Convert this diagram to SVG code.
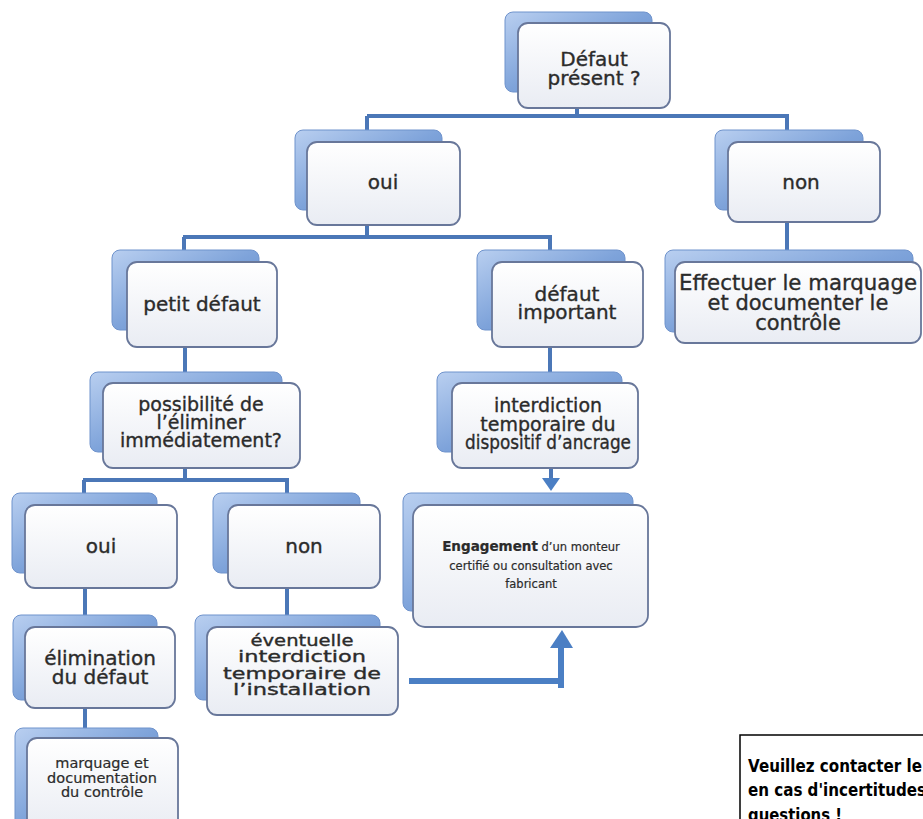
<svg xmlns="http://www.w3.org/2000/svg" width="923" height="819" viewBox="0 0 923 819">
<defs>
<linearGradient id="gb" x1="0" y1="0" x2="1" y2="1">
<stop offset="0" stop-color="#b9cff0"/>
<stop offset="0.5" stop-color="#7ea3da"/>
<stop offset="1" stop-color="#5a86c6"/>
</linearGradient>
<linearGradient id="gf" x1="0" y1="0" x2="0" y2="1">
<stop offset="0" stop-color="#ffffff"/>
<stop offset="1" stop-color="#e9ecf3"/>
</linearGradient>
</defs>
<style>
.back{fill:url(#gb);stroke:#6f93cc;stroke-width:1}
.front{fill:url(#gf);stroke:#68779a;stroke-width:1.8}
.t{font-family:"DejaVu Sans",Verdana,sans-serif;font-size:20px;fill:#2b2b2b;stroke:#2b2b2b;stroke-width:0.35;text-anchor:middle}
.c{stroke:#4b77b7;stroke-width:4;fill:none}
.ct{stroke:#4b7fc4;stroke-width:6;fill:none}
.ah{fill:#4b7fc4}
.note{font-family:"DejaVu Sans",Verdana,sans-serif;font-size:17px;font-weight:bold;fill:#000}
</style>
<rect width="923" height="819" fill="#ffffff"/>
<g id="connectors">
<path class="c" d="M577,100 V116 M367,116 H789 M367,116 V135 M787,116 V135"/>
<path class="c" d="M367,215 V237 M183,237 H552 M184,237 V255 M550,237 V255"/>
<path class="c" d="M787,212 V255"/>
<path class="c" d="M185,340 V378"/>
<path class="c" d="M185,460 V480 M83,480 H289 M84,480 V498 M287,480 V498"/>
<path class="c" d="M550,340 V378"/>
<path class="c" d="M85,580 V620 M287,580 V620"/>
<path class="c" d="M85,700 V733"/>
<path class="c" d="M551,462 V480"/>
<polygon class="ah" points="542,478 560,478 551,491"/>
<path class="ct" d="M409,681 H558 M561,688 V645"/>
<polygon class="ah" points="550,648 573,648 562,630"/>
</g>
<g id="n1">
<rect class="back" x="505" y="12" width="147" height="80" rx="8"/>
<rect class="front" x="518" y="23" width="152" height="85" rx="10"/>
<text class="t" x="594" y="66">Défaut</text>
<text class="t" x="594" y="85">présent ?</text>
</g>
<g id="n2">
<rect class="back" x="295" y="130" width="147" height="80" rx="8"/>
<rect class="front" x="307" y="142" width="153" height="83" rx="10"/>
<text class="t" x="383" y="189">oui</text>
</g>
<g id="n3">
<rect class="back" x="715" y="130" width="148" height="80" rx="8"/>
<rect class="front" x="728" y="142" width="152" height="80" rx="10"/>
<text class="t" x="801" y="189">non</text>
</g>
<g id="n4">
<rect class="back" x="665" y="250" width="248" height="82" rx="8"/>
<rect class="front" x="675" y="262" width="246" height="81" rx="10"/>
<text class="t" x="798" y="290" style="font-size:21px" textLength="238" lengthAdjust="spacingAndGlyphs">Effectuer le marquage</text>
<text class="t" x="798" y="310" style="font-size:21px">et documenter le</text>
<text class="t" x="798" y="330" style="font-size:21px">contrôle</text>
</g>
<g id="n5">
<rect class="back" x="112" y="250" width="147" height="80" rx="8"/>
<rect class="front" x="127" y="262" width="150" height="85" rx="10"/>
<text class="t" x="202" y="311">petit défaut</text>
</g>
<g id="n6">
<rect class="back" x="477" y="250" width="148" height="80" rx="8"/>
<rect class="front" x="492" y="262" width="151" height="85" rx="10"/>
<text class="t" x="567" y="301">défaut</text>
<text class="t" x="567" y="319">important</text>
</g>
<g id="n7">
<rect class="back" x="90" y="372" width="192" height="80" rx="8"/>
<rect class="front" x="103" y="383" width="197" height="85" rx="10"/>
<text class="t" x="201" y="411" style="font-size:19px">possibilité de</text>
<text class="t" x="201" y="429" style="font-size:19px">l’éliminer</text>
<text class="t" x="201" y="447" style="font-size:19px">immédiatement?</text>
</g>
<g id="n8">
<rect class="back" x="437" y="372" width="185" height="80" rx="8"/>
<rect class="front" x="452" y="383" width="186" height="85" rx="10"/>
<text class="t" x="548" y="412" style="font-size:19px">interdiction</text>
<text class="t" x="548" y="431" style="font-size:19px">temporaire du</text>
<text class="t" x="548" y="449" style="font-size:19px" textLength="166" lengthAdjust="spacingAndGlyphs">dispositif d’ancrage</text>
</g>
<g id="n9">
<rect class="back" x="403" y="493" width="230" height="118" rx="8"/>
<rect class="front" x="413" y="505" width="235" height="122" rx="12"/>
<text class="t" x="531" y="551" style="stroke-width:0.2"><tspan style="font-weight:bold;font-size:13.5px">Engagement</tspan><tspan style="font-size:11.5px"> d’un monteur</tspan></text>
<text class="t" x="531" y="570" style="font-size:11.5px;stroke-width:0.2">certifié ou consultation avec</text>
<text class="t" x="531" y="588" style="font-size:11.5px;stroke-width:0.2">fabricant</text>
</g>
<g id="n10">
<rect class="back" x="12" y="493" width="145" height="80" rx="8"/>
<rect class="front" x="25" y="505" width="152" height="83" rx="10"/>
<text class="t" x="101" y="553">oui</text>
</g>
<g id="n11">
<rect class="back" x="213" y="493" width="147" height="80" rx="8"/>
<rect class="front" x="228" y="505" width="152" height="83" rx="10"/>
<text class="t" x="304" y="553">non</text>
</g>
<g id="n12">
<rect class="back" x="13" y="615" width="144" height="85" rx="8"/>
<rect class="front" x="25" y="627" width="150" height="81" rx="10"/>
<text class="t" x="100" y="665">élimination</text>
<text class="t" x="100" y="684">du défaut</text>
</g>
<g id="n13">
<rect class="back" x="195" y="615" width="185" height="85" rx="8"/>
<rect class="front" x="207" y="627" width="191" height="88" rx="10"/>
<text class="t" x="302" y="646" style="font-size:16px" textLength="103" lengthAdjust="spacingAndGlyphs">éventuelle</text>
<text class="t" x="302" y="662" style="font-size:16px" textLength="128" lengthAdjust="spacingAndGlyphs">interdiction</text>
<text class="t" x="302" y="679" style="font-size:16px" textLength="158" lengthAdjust="spacingAndGlyphs">temporaire de</text>
<text class="t" x="302" y="695" style="font-size:16px" textLength="138" lengthAdjust="spacingAndGlyphs">l’installation</text>
</g>
<g id="n14">
<rect class="back" x="15" y="728" width="143" height="100" rx="8"/>
<rect class="front" x="27" y="738" width="151" height="95" rx="10"/>
<text class="t" x="102" y="768" style="font-size:14.5px;stroke-width:0.2">marquage et</text>
<text class="t" x="102" y="783" style="font-size:14.5px;stroke-width:0.2">documentation</text>
<text class="t" x="102" y="797" style="font-size:14.5px;stroke-width:0.2">du contrôle</text>
</g>
<g id="note">
<rect x="740" y="735" width="220" height="100" fill="#ffffff" stroke="#000000" stroke-width="1.5"/>
<text class="note" x="748" y="772" textLength="174" lengthAdjust="spacingAndGlyphs">Veuillez contacter le</text>
<text class="note" x="748" y="796" textLength="178" lengthAdjust="spacingAndGlyphs">en cas d'incertitudes</text>
<text class="note" x="748" y="821" textLength="94" lengthAdjust="spacingAndGlyphs">questions !</text>
</g>
</svg>
